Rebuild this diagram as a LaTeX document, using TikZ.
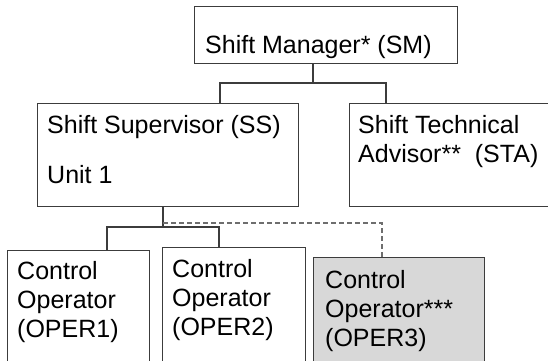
\documentclass[tikz,border=0pt]{standalone}
\usepackage{fontspec}
\setmainfont{Liberation Sans}
\usetikzlibrary{calc}
\definecolor{linegray}{RGB}{60,60,60}
\definecolor{dashgray}{RGB}{110,110,110}
\definecolor{opfill}{RGB}{216,216,216}
\tikzset{
  orgbox/.style={draw=linegray, line width=1.1pt, anchor=north west, inner sep=0pt},
  orgtext/.style={anchor=base west, inner sep=0pt, align=left, font=\fontsize{25}{29}\selectfont},
  orgline/.style={draw=linegray, line width=1.1pt},
  dashline/.style={draw=dashgray, line width=1.1pt, dash pattern=on 5pt off 3pt},
}
\begin{document}
\begin{tikzpicture}[x=1pt, y=-1pt]
        \path[fill=white, use as bounding box] (0,0) rectangle (548,360);
        \clip (0,0) rectangle (548,360);
        \node[orgbox, minimum width=263pt, minimum height=57pt] (sm) at (194,6) {};
        \node[orgbox, minimum width=261pt, minimum height=103pt] (ss) at (37,103) {};
        \node[orgbox, minimum width=240pt, minimum height=103pt] (sta) at (349,103) {};
        \node[orgbox, minimum width=142pt, minimum height=140pt] (op1) at (7,250) {};
        \node[orgbox, minimum width=143pt, minimum height=140pt] (op2) at (162,247) {};
        \node[orgbox, fill=opfill, minimum width=171pt, minimum height=140pt] (op3) at (313,257) {};

        % base anchor sits on the last line
        \node[orgtext] (smtext) at ($(sm.north west)+(11,47)$) {Shift Manager* (SM)};
        \node[orgtext] (sstext) at ($(ss.north west)+(10,80)$) {Shift Supervisor (SS)\\[21pt]Unit 1};
        \node[orgtext] (statext) at ($(sta.north west)+(9,59)$) {Shift Technical\\Advisor**~ (STA)};
        \node[orgtext] (op1text) at ($(op1.north west)+(10,87)$) {Control\\Operator\\(OPER1)};
        \node[orgtext] (op2text) at ($(op2.north west)+(10,88)$) {Control\\Operator\\(OPER2)};
        \node[orgtext] (op3text) at ($(op3.north west)+(12,89)$) {Control\\Operator***\\(OPER3)};

        \coordinate (smbus) at (313,83);
        \draw[orgline] (sm.south -| smbus) -- (smbus);
        \draw[orgline] ($(ss.north west)+(183,0)$) |- (smbus) -| ($(sta.north west)+(37,0)$);

        \coordinate (ssbus) at (163,227);
        \coordinate (dashstart) at (163,223);
        \draw[orgline] (ss.south -| ssbus) -- (ssbus);
        \draw[orgline] ($(op1.north west)+(100,0)$) |- (ssbus) -| ($(op2.north west)+(57,0)$);
        \draw[dashline] (dashstart) -| ($(op3.north west)+(69,0)$);
\end{tikzpicture}
\end{document}
